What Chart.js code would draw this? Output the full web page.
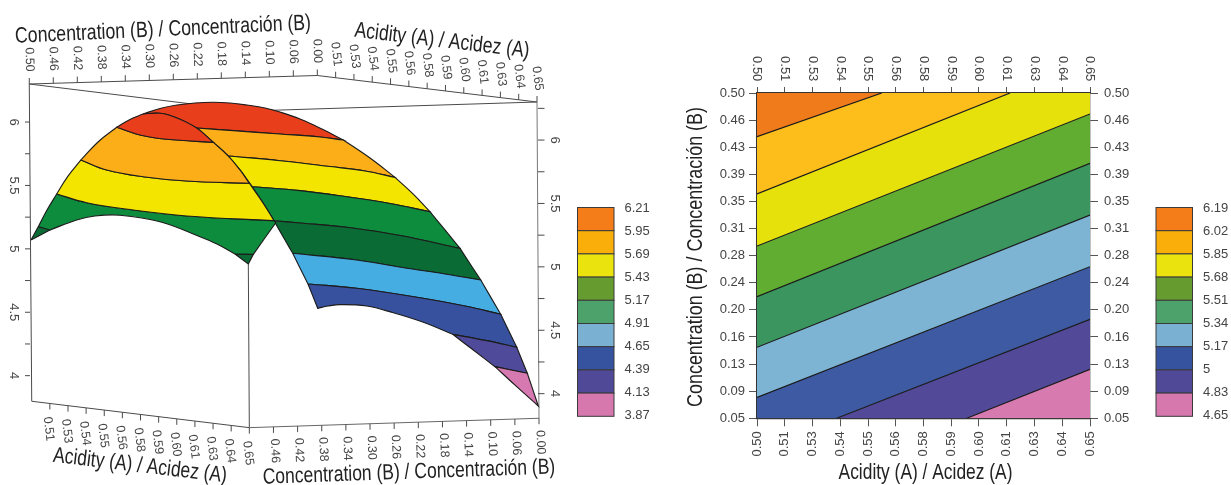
<!DOCTYPE html>
<html>
<head>
<meta charset="utf-8">
<title>Response surface and contour plot</title>
<script src="https://cdn.jsdelivr.net/npm/chart.js@4/dist/chart.umd.js"></script>
<style>
    html, body { margin: 0; padding: 0; background: #fff; overflow: hidden; }
    canvas { position: absolute; top: 0; }
    #surface { left: 0; }
    #contour { left: 640px; }
</style>
</head>
<body>
<canvas id="surface" width="680" height="485"></canvas>
<canvas id="contour" width="591" height="485"></canvas>
<script>
// --- TICK LABELS ---
const acidityTicks = ['0.50', '0.51', '0.53', '0.54', '0.55', '0.56', '0.58', '0.59', '0.60', '0.61', '0.63', '0.64', '0.65'];
const concTicks = ['0.50', '0.46', '0.43', '0.39', '0.35', '0.31', '0.28', '0.24', '0.20', '0.16', '0.13', '0.09', '0.05'];
const concTicks3d = ['0.50', '0.46', '0.42', '0.38', '0.34', '0.30', '0.26', '0.22', '0.18', '0.14', '0.10', '0.06', '0.00'];
const responseTicks = [6, 5.75, 5.5, 5.25, 5, 4.75, 4.5, 4.25, 4];
const surfaceLevels = ['6.21', '5.95', '5.69', '5.43', '5.17', '4.91', '4.65', '4.39', '4.13', '3.87'];
const contourLevels = ['6.19', '6.02', '5.85', '5.68', '5.51', '5.34', '5.17', '5', '4.83', '4.65'];
const legendColours = ['#F47D1A', '#F9AE0A', '#EAE30E', '#669B2F', '#4DA16B', '#7AB1D3', '#36539F', '#504998', '#D678AE'];

const titleA = 'Acidity (A) / Acidez (A)';
const titleB = 'Concentration (B) / Concentración (B)';

// --- SURFACE OUTLINE: [position across the box, response] ---
const rimLeft = [[0.25, 5.07], [2.08, 5.175], [4.25, 5.306], [6.68, 5.433], [9.5, 5.574], [12.75, 5.701], [17, 5.843], [21.68, 5.959], [25, 6.02], [28.25, 6.063]];
const rimCrown = [[28.25, 6.063], [32.5, 6.107], [36.75, 6.134], [41.25, 6.15], [45.75, 6.156], [50, 6.15], [54.25, 6.134], [58.75, 6.111], [62.5, 6.079], [67.5, 6.024], [73, 5.945], [78.33, 5.858]];
const rimFall = [[78.33, 5.858], [85, 5.716], [91.25, 5.564], [95.75, 5.433], [100, 5.293], [103.75, 5.149], [107.5, 5.004], [112.68, 4.754], [117.68, 4.484], [121.68, 4.224], [124.33, 4.019], [127.08, 3.761]];
const ridge = [[28.25, 6.063], [32.5, 6.069], [36.75, 6.032], [41.68, 5.953], [45.83, 5.84], [49.58, 5.732], [52.5, 5.622], [54.83, 5.517], [58.33, 5.359], [61, 5.222], [61.43, 5.206]];
const lowerArcFront = [[51.25, 4.959], [46.75, 5.038], [42.5, 5.096], [32.5, 5.214], [22.5, 5.265], [16.25, 5.259], [11.68, 5.228], [5, 5.149]];
const lowerArcBack = [[71.93, 4.531], [74.5, 4.549], [77.5, 4.56], [84.18, 4.549], [90.83, 4.496], [98.33, 4.421], [105.68, 4.326], [110.83, 4.202], [116.25, 4.071], [121.68, 3.913], [127.08, 3.761]];
const innerEdge = [[61, 5.222], [63.75, 5.07], [65.68, 4.965], [69.5, 4.723], [71.93, 4.531]];

// --- SURFACE CONTOURS: front sheet ---
const frontRedOrange = [[21.68, 5.959], [27.5, 5.898], [34.18, 5.864], [45.83, 5.84]];
const frontOrangeYellow = [[12.75, 5.701], [19.18, 5.622], [28.25, 5.569], [39.18, 5.535], [54.83, 5.517]];
const frontYellowGreen = [[6.68, 5.433], [14.18, 5.364], [25.83, 5.306], [39.18, 5.259], [61, 5.222]];

// --- SURFACE CONTOURS: back sheet ---
const backRedOrange = [[41.68, 5.953], [50.83, 5.932], [62.5, 5.906], [72.5, 5.882], [78.33, 5.858]];
const backOrangeYellow = [[49.58, 5.732], [62.5, 5.695], [75, 5.649], [83.75, 5.614], [91.25, 5.564]];
const backYellowGreen = [[55.58, 5.49], [67.5, 5.459], [79.18, 5.411], [90, 5.358], [100, 5.293]];
const backGreenDark = [[61, 5.222], [67.5, 5.204], [79.18, 5.17], [92.5, 5.105], [107.5, 5.004]];
const backDarkSky = [[65.68, 4.965], [81.68, 4.912], [94.18, 4.847], [103.75, 4.802], [112.68, 4.754]];
const backSkyBlue = [[69.5, 4.723], [81.68, 4.689], [98.25, 4.61], [108.75, 4.549], [117.68, 4.484]];
const backBluePurple = [[105.68, 4.326], [114.18, 4.276], [121.68, 4.224]];
const backPurplePink = [[116.25, 4.071], [124.33, 4.019]];

// --- CONTOUR PLOT BOUNDARIES: [acidity, concentration] ---
const levelA = [[0.5, 0.4395], [0.5562, 0.5]];
const levelB = [[0.5, 0.3603], [0.614, 0.5]];
const levelC = [[0.5, 0.2883], [0.65, 0.471]];
const levelD = [[0.5, 0.2182], [0.65, 0.4027]];
const levelE = [[0.5, 0.1482], [0.65, 0.3312]];
const levelF = [[0.5, 0.079], [0.65, 0.2597]];
const levelG = [[0.5359, 0.05], [0.65, 0.1869]];
const levelH = [[0.5945, 0.05], [0.65, 0.1178]];

// --- HELPERS ---
const rev = arr => arr.slice().reverse();
const toPoints = arr => arr.map(p => ({ x: p[0], y: p[1] }));
const TICK_FONT = '"Liberation Sans", Arial, sans-serif';
const TITLE_FONT = '"Liberation Sans", Arial, sans-serif'; // no narrow face installed, squeezed when drawn

// Each part is one smooth run. Doubling its end points keeps the corner sharp under tension.
function band(colour, ...parts) {
    const pts = [];
    parts.forEach(part => {
        pts.push(part[0]);
        part.forEach(p => pts.push(p));
        pts.push(part[part.length - 1]);
    });
    return {
        data: toPoints(pts), showLine: true, fill: 'shape', backgroundColor: colour,
        borderColor: '#1c1c1c', borderWidth: 1.15, pointRadius: 0, tension: 0.4, clip: false
    };
}

function drawLegend(chart, left, labels) {
    const ctx = chart.ctx;
    const top = 207.5, w = 36.5, h = 23.2;
    legendColours.forEach((c, i) => {
        ctx.fillStyle = c;
        ctx.fillRect(left, top + i * h, w, h);
        ctx.strokeStyle = '#3a3a3a';
        ctx.lineWidth = 1;
        ctx.strokeRect(left, top + i * h, w, h);
    });
    ctx.fillStyle = '#444';
    ctx.font = '13px ' + TICK_FONT;
    ctx.textAlign = 'left';
    ctx.textBaseline = 'middle';
    labels.forEach((t, i) => ctx.fillText(t, left + 47, top + 0.5 + i * 23));
}

function rotatedText(ctx, text, x, y, deg, squeeze) {
    ctx.save();
    ctx.translate(x, y);
    ctx.rotate(deg * Math.PI / 180);
    if (squeeze) ctx.scale(squeeze, 1);
    ctx.fillText(text, 0, 0);
    ctx.restore();
}

function titleStyle(ctx) {
    ctx.fillStyle = '#222';
    ctx.font = '22px ' + TITLE_FONT;
    ctx.textAlign = 'center';
    ctx.textBaseline = 'middle';
}

// --- 3D FRAME ---
// Box corners in the same units as the surface
const cornerTopLeft = [-0.18, 6.3];
const cornerTopBack = [71.83, 6.367];
const cornerTopRight = [126.75, 6.158];
const cornerTopFront = [54.75, 6.087];
const cornerFloorLeft = [0.43, 3.798];
const cornerFloorFront = [54.83, 3.59];
const cornerFloorRight = [127.25, 3.664];
const cornerFrontTip = [54.58, 4.881];
const RIGHT_EDGE_SHIFT = 0.142;

const framePlugin = {
    id: 'frame3d',
    beforeDatasetsDraw(chart) {
        const ctx = chart.ctx;
        const px = p => [chart.scales.x.getPixelForValue(p[0]), chart.scales.y.getPixelForValue(p[1])];

        const seg = (a, b, colour) => {
            const [x1, y1] = px(a), [x2, y2] = px(b);
            ctx.strokeStyle = colour || '#4a4a4a';
            ctx.lineWidth = 1;
            ctx.beginPath();
            ctx.moveTo(x1, y1);
            ctx.lineTo(x2, y2);
            ctx.stroke();
        };

        // ticks and rotated labels along one slanted axis
        const axis = (a, b, labels, skipFirst, dir, dx, dy, deg) => {
            const [x1, y1] = px(a), [x2, y2] = px(b);
            const n = labels.length - 1;
            ctx.fillStyle = '#444';
            ctx.font = '12.5px ' + TICK_FONT;
            ctx.textAlign = 'center';
            ctx.textBaseline = 'middle';
            labels.forEach((t, i) => {
                if (skipFirst && i === 0) return;
                const x = x1 + (x2 - x1) * i / n, y = y1 + (y2 - y1) * i / n;
                ctx.strokeStyle = '#4a4a4a';
                ctx.beginPath();
                ctx.moveTo(x, y);
                ctx.lineTo(x, y + dir * 6);
                ctx.stroke();
                rotatedText(ctx, t, x + dx, y + dy, deg);
            });
        };

        seg(cornerTopLeft, cornerTopBack);
        seg(cornerTopBack, cornerTopRight);
        seg(cornerTopLeft, cornerTopFront);
        seg(cornerTopRight, cornerTopFront);
        seg(cornerTopLeft, cornerFloorLeft);
        seg(cornerTopRight, cornerFloorRight, '#777');
        seg(cornerFrontTip, cornerFloorFront);
        seg(cornerFloorLeft, cornerFloorFront);
        seg(cornerFloorFront, cornerFloorRight, '#666');

        axis(cornerTopLeft, cornerTopBack, concTicks3d, false, -1, 0, -24.5, 88);
        axis(cornerTopBack, cornerTopRight, acidityTicks, true, -1, 0.5, -23.5, 83);
        axis(cornerFloorLeft, cornerFloorFront, acidityTicks, true, 1, -1.2, 25.5, 83);
        axis(cornerFloorFront, cornerFloorRight, concTicks3d, true, 1, 1.5, 24, 88);

        // response ticks on the left and right vertical edges
        const yScale = chart.scales.y;
        ctx.strokeStyle = '#4a4a4a';
        ctx.fillStyle = '#444';
        ctx.font = '13px ' + TICK_FONT;
        responseTicks.concat([6.25]).forEach(z => {
            const isMajor = Number.isInteger(z * 2);
            if (z !== 6.25) {
                const yl = yScale.getPixelForValue(z);
                ctx.beginPath();
                ctx.moveTo(25, yl);
                ctx.lineTo(30, yl);
                ctx.stroke();
                if (isMajor) rotatedText(ctx, String(z), 13.5, yl, 90);
            }
            const yr = yScale.getPixelForValue(z - RIGHT_EDGE_SHIFT);
            ctx.beginPath();
            ctx.moveTo(538, yr);
            ctx.lineTo(544.5, yr);
            ctx.stroke();
            if (isMajor) rotatedText(ctx, String(z), 555, yr, 90);
        });
    },
    afterDraw(chart) {
        const ctx = chart.ctx;
        titleStyle(ctx);
        rotatedText(ctx, titleB, 163, 30, -2.6, 0.805);
        rotatedText(ctx, titleA, 442, 41, 6.8, 0.8);
        rotatedText(ctx, titleA, 140, 466, 6.8, 0.795);
        rotatedText(ctx, titleB, 409, 472.5, -2, 0.795);
        drawLegend(chart, 577.5, surfaceLevels);
    }
};

// --- SURFACE CHART ---
function initSurface() {
    const backSheet = [
        band('#E83E1C', rimCrown, rev(backRedOrange), rev(ridge.slice(0, 4))),
        band('#FBAE17', backRedOrange, rimFall.slice(0, 3), rev(backOrangeYellow), [ridge[5], ridge[4], ridge[3]]),
        band('#F3E500', backOrangeYellow, rimFall.slice(2, 5), rev(backYellowGreen), [backYellowGreen[0], ridge[6], ridge[5]]),
        band('#0C8C3C', backYellowGreen, rimFall.slice(4, 7), rev(backGreenDark), [ridge[9], ridge[8], backYellowGreen[0]]),
        band('#0A6C34', backGreenDark, rimFall.slice(6, 8), rev(backDarkSky), rev(innerEdge.slice(0, 3))),
        band('#46ADE2', backDarkSky, rimFall.slice(7, 9), rev(backSkyBlue), rev(innerEdge.slice(2, 4))),
        band('#37519F', backSkyBlue, rimFall.slice(8, 10), rev(backBluePurple), rev(lowerArcBack.slice(0, 7)), rev(innerEdge.slice(3, 5))),
        band('#504A9B', backBluePurple, rimFall.slice(9, 11), rev(backPurplePink), rev(lowerArcBack.slice(6, 9))),
        band('#D679B0', backPurplePink, rimFall.slice(10, 12), rev(lowerArcBack.slice(8, 11)))
    ];
    const tip = ridge[10];
    const notchRight = [55.83, 4.957], notchTip = [54.58, 4.881], notchLeft = lowerArcFront[0], arcStart = lowerArcFront[7];
    const frontSheet = [
        band('#0A6C34', rimLeft.slice(0, 2), [rimLeft[1], arcStart], [arcStart, rimLeft[0]]),
        band('#0A6C34', [notchLeft, notchRight], [notchRight, notchTip], [notchTip, notchLeft]),
        band('#0C8C3C', rimLeft.slice(1, 4), frontYellowGreen, [ridge[9], tip], [tip, notchRight], [notchRight, notchLeft], lowerArcFront, [arcStart, rimLeft[1]]),
        band('#F3E500', rimLeft.slice(3, 6), frontOrangeYellow, ridge.slice(7, 10), rev(frontYellowGreen)),
        band('#FBAE17', rimLeft.slice(5, 8), frontRedOrange, ridge.slice(4, 8), rev(frontOrangeYellow)),
        band('#E83E1C', rimLeft.slice(7, 10), ridge.slice(0, 5), rev(frontRedOrange))
    ];

    new Chart(document.getElementById('surface'), {
        type: 'scatter',
        // datasets paint last to first, so the front sheet goes first
        data: { datasets: rev(frontSheet).concat(rev(backSheet)) },
        options: {
            responsive: false, animation: false, events: [],
            layout: { padding: { left: 30, right: 130, top: 84, bottom: 71.3 } },
            scales: {
                x: { type: 'linear', display: false, min: 0, max: 130 },
                y: { type: 'linear', display: false, min: 3.7, max: 6.3 }
            },
            plugins: { legend: { display: false }, tooltip: { enabled: false } }
        },
        plugins: [framePlugin]
    });
}

// --- CONTOUR CHART ---
function initContour() {
    const fills = [
        { pts: [[0.5, 0.5], levelA[1], levelA[0]], c: '#F07B1B' },
        { pts: [levelA[0], levelA[1], levelB[1], levelB[0]], c: '#FDBD1A' },
        { pts: [levelB[0], levelB[1], [0.65, 0.5], levelC[1], levelC[0]], c: '#E6E00B' },
        { pts: [levelC[0], levelC[1], levelD[1], levelD[0]], c: '#60AD31' },
        { pts: [levelD[0], levelD[1], levelE[1], levelE[0]], c: '#3A955E' },
        { pts: [levelE[0], levelE[1], levelF[1], levelF[0]], c: '#7DB3D3' },
        { pts: [levelF[0], levelF[1], levelG[1], levelG[0], [0.5, 0.05]], c: '#3D5AA3' },
        { pts: [levelG[0], levelG[1], levelH[1], levelH[0]], c: '#524A99' },
        { pts: [levelH[0], levelH[1], [0.65, 0.05]], c: '#D67AAF' }
    ];
    const fillSets = fills.map(f => ({
        data: toPoints(f.pts), showLine: true, fill: 'shape', backgroundColor: f.c,
        borderWidth: 0, pointRadius: 0, tension: 0
    }));
    const lineSets = [levelA, levelB, levelC, levelD, levelE, levelF, levelG, levelH].map(l => ({
        data: toPoints(l), showLine: true, borderColor: '#1a1a1a', borderWidth: 1.2, pointRadius: 0, tension: 0
    }));

    const axisBase = (labels, pad) => ({
        callback: (v, i) => labels[i],
        autoSkip: false,
        padding: pad,
        color: '#444',
        font: { family: TICK_FONT, size: 13 }
    });
    const gridBase = len => ({ drawOnChartArea: false, drawTicks: true, tickLength: len, color: '#555' });
    const xTick = pad => Object.assign(axisBase(acidityTicks, pad), { stepSize: 0.0125, minRotation: 90, maxRotation: 90 });
    const yLabels = rev(concTicks);
    const yTick = pad => Object.assign(axisBase(yLabels, pad), { stepSize: 0.0375 });
    const frameLine = { color: '#333', width: 1.3 };

    new Chart(document.getElementById('contour'), {
        type: 'scatter',
        data: { datasets: lineSets.concat(fillSets) },
        options: {
            responsive: false, animation: false, events: [],
            layout: { padding: 0 },
            scales: {
                x: {
                    type: 'linear', position: 'bottom', min: 0.5, max: 0.65, z: 1,
                    ticks: xTick(5), grid: gridBase(8), border: frameLine,
                    afterFit: s => { s.height = 66.7; }
                },
                xTop: {
                    type: 'linear', position: 'top', min: 0.5, max: 0.65, z: 1,
                    // labels drawn in the plugin, chart.js shifts them sideways at 90deg on top axes
                    ticks: { stepSize: 0.0125, autoSkip: false, display: false },
                    grid: gridBase(6), border: frameLine,
                    afterFit: s => { s.height = 93; }
                },
                y: {
                    type: 'linear', position: 'left', min: 0.05, max: 0.5, z: 1,
                    ticks: yTick(4), grid: gridBase(8), border: frameLine,
                    afterFit: s => { s.width = 117; }
                },
                yRight: {
                    type: 'linear', position: 'right', min: 0.05, max: 0.5, z: 1,
                    ticks: yTick(6), grid: gridBase(8), border: frameLine,
                    afterFit: s => { s.width = 141; }
                }
            },
            plugins: { legend: { display: false }, tooltip: { enabled: false } }
        },
        plugins: [{
            id: 'levelLegend',
            afterDraw(chart) {
                const ctx = chart.ctx;
                ctx.fillStyle = '#444';
                ctx.font = '13px ' + TICK_FONT;
                ctx.textAlign = 'center';
                ctx.textBaseline = 'middle';
                acidityTicks.forEach((t, i) => {
                    rotatedText(ctx, t, chart.scales.xTop.getPixelForTick(i), 68.7, 90);
                });
                titleStyle(ctx);
                rotatedText(ctx, titleA, 285.5, 473, 0, 0.79);
                rotatedText(ctx, titleB, 56, 257, -90, 0.815);
                drawLegend(chart, 516, contourLevels);
            }
        }]
    });
}

initSurface();
initContour();
</script>
</body>
</html>
